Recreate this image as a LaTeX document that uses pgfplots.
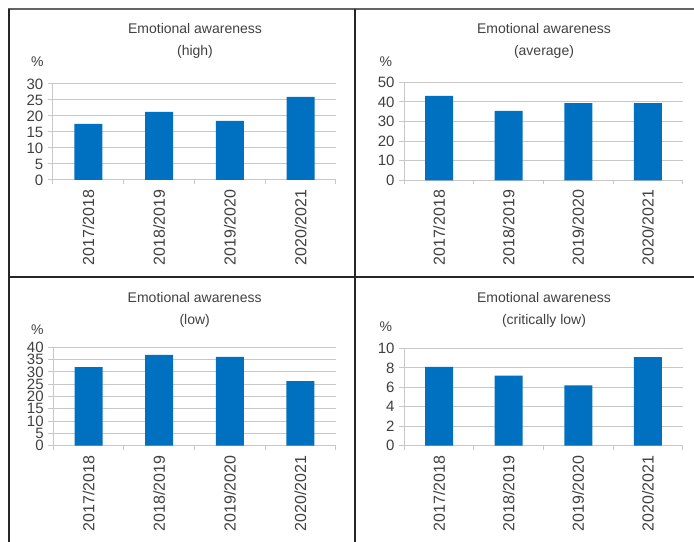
\documentclass[border=0pt]{standalone}
\usepackage{fontspec}
\setmainfont{Liberation Sans}
\usepackage{pgfplots}
\pgfplotsset{compat=1.18}
\definecolor{barblue}{RGB}{0,112,192}
\definecolor{textgray}{RGB}{64,64,64}
\definecolor{gridgray}{RGB}{200,200,200}
\definecolor{framedark}{RGB}{38,38,38}
\definecolor{framegray}{RGB}{100,100,100}
\pgfplotsset{
  panel/.style={
    scale only axis,
    xmin=0.5, xmax=4.5, ymin=0,
    axis x line*=bottom, axis y line*=left,
    xtick={1,2,3,4},
    xticklabels={2017/2018,2018/2019,2019/2020,2020/2021},
    minor xtick={0.5,1.5,2.5,3.5,4.5},
    xtick pos=bottom, ytick pos=left,
    tick align=outside,
    major tick length=3.75pt,
    minor tick length=3pt,
    major x tick style={draw=none},
    ymajorgrids,
    grid style={color=gridgray, line width=0.75pt},
    axis line style={color=gridgray, line width=0.75pt},
    every tick/.style={color=gridgray, line width=0.75pt},
    minor tick style={color=gridgray, line width=0.75pt},
    /pgf/number format/assume math mode=true,
    xticklabel style={rotate=90, anchor=east, font=\fontsize{12}{12}\selectfont, color=textgray},
    yticklabel style={font=\fontsize{11.25}{11.25}\selectfont, color=textgray},
    ybar, bar width=21pt,
    clip=false,
  }
}
\begin{document}
\begin{tikzpicture}
\useasboundingbox (0,0) rectangle (520.5pt,406.5pt);
% frame lines
\draw[framegray, line width=1.5pt] (6pt,399.75pt) -- (520.5pt,399.75pt);
\draw[framedark, line width=1.5pt] (6.4pt,399.75pt) -- (6.4pt,0pt);
\draw[framedark, line width=1.5pt] (266.6pt,399.75pt) -- (266.6pt,0pt);
\draw[framedark, line width=1.5pt] (6.4pt,198.5pt) -- (520.5pt,198.5pt);

% panel 1: high
\begin{axis}[panel, at={(39.75pt,271.5pt)}, anchor=south west,
  width=212.25pt, height=72pt, ymax=30, ytick={0,5,...,30}]
\addplot[fill=barblue, draw=none] coordinates {(1,17.5) (2,21.3) (3,18.5) (4,26.0)};
\end{axis}
% panel 2: average
\begin{axis}[panel, at={(303.2pt,271.3pt)}, anchor=south west,
  width=208.8pt, height=73.5pt, ymax=50, ytick={0,10,...,50}]
\addplot[fill=barblue, draw=none] coordinates {(1,43.0) (2,35.4) (3,39.4) (4,39.4)};
\end{axis}
% panel 3: low
\begin{axis}[panel, at={(40pt,72.2pt)}, anchor=south west,
  width=211.8pt, height=73.8pt, ymax=40, ytick={0,5,...,40}]
\addplot[fill=barblue, draw=none] coordinates {(1,32.0) (2,36.9) (3,36.1) (4,26.3)};
\end{axis}
% panel 4: critically low
\begin{axis}[panel, at={(303.2pt,72.2pt)}, anchor=south west,
  width=208.8pt, height=73pt, ymax=10, ytick={0,2,...,10}]
\addplot[fill=barblue, draw=none] coordinates {(1,8.1) (2,7.2) (3,6.2) (4,9.1)};
\end{axis}

% titles
\begin{scope}[every node/.style={font=\fontsize{10.5}{10.5}\selectfont, text=textgray, inner sep=0pt}]
\node[anchor=base] at (146.25pt,381pt) {Emotional awareness};
\node[anchor=base] at (146.25pt,364.9pt) {(high)};
\node[anchor=base] at (408pt,381pt) {Emotional awareness};
\node[anchor=base] at (408pt,364.9pt) {(average)};
\node[anchor=base] at (146pt,179.25pt) {Emotional awareness};
\node[anchor=base] at (146pt,163.1pt) {(low)};
\node[anchor=base] at (408pt,179.25pt) {Emotional awareness};
\node[anchor=base] at (408pt,163.1pt) {(critically low)};
\node at (28.1pt,360.5pt) {\%};
\node at (289.35pt,360.5pt) {\%};
\node at (28.1pt,159.6pt) {\%};
\node at (289.35pt,161.5pt) {\%};
\end{scope}
\end{tikzpicture}
\end{document}
